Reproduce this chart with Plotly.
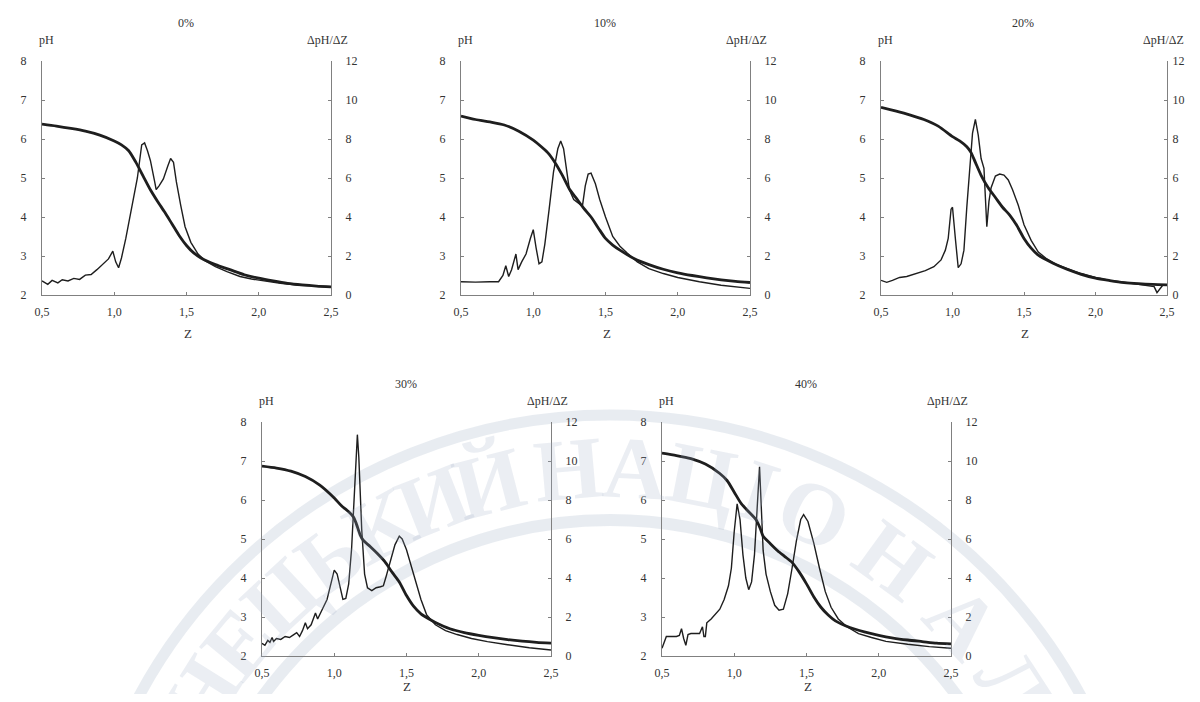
import math
import plotly.graph_objects as go

# ---------------- data ----------------
panel_titles = ["0%", "10%", "20%", "30%", "40%"]
x_tickvals = [0.5, 1.0, 1.5, 2.0, 2.5]
x_ticktext = ["0,5", "1,0", "1,5", "2,0", "2,5"]
ph_tickvals = [2, 3, 4, 5, 6, 7, 8]
d_tickvals = [0, 2, 4, 6, 8, 10, 12]

# pH curves
z_ph_0 = [0.5, 0.6, 0.7, 0.8, 0.9, 1.0, 1.05, 1.1, 1.15, 1.2, 1.25, 1.3, 1.35, 1.4, 1.45, 1.5, 1.55, 1.6, 1.7, 1.8, 1.9, 2.0, 2.1, 2.2, 2.3, 2.4, 2.5]
ph_0 = [6.38, 6.33, 6.27, 6.2, 6.1, 5.95, 5.85, 5.7, 5.4, 5.05, 4.7, 4.4, 4.12, 3.82, 3.52, 3.27, 3.08, 2.95, 2.78, 2.65, 2.52, 2.43, 2.36, 2.3, 2.26, 2.23, 2.21]

z_ph_10 = [0.5, 0.6, 0.7, 0.8, 0.9, 1.0, 1.05, 1.1, 1.15, 1.2, 1.25, 1.3, 1.35, 1.4, 1.45, 1.5, 1.55, 1.6, 1.7, 1.8, 1.9, 2.0, 2.1, 2.2, 2.3, 2.4, 2.5]
ph_10 = [6.59, 6.5, 6.44, 6.36, 6.2, 5.97, 5.82, 5.65, 5.4, 5.08, 4.72, 4.47, 4.22, 4.0, 3.72, 3.45, 3.28, 3.15, 2.93, 2.78, 2.66, 2.57, 2.5, 2.44, 2.39, 2.35, 2.32]

z_ph_20 = [0.5, 0.6, 0.7, 0.8, 0.9, 1.0, 1.05, 1.1, 1.13, 1.16, 1.2, 1.25, 1.3, 1.35, 1.4, 1.45, 1.5, 1.55, 1.6, 1.7, 1.8, 1.9, 2.0, 2.1, 2.2, 2.3, 2.4, 2.5]
ph_20 = [6.81, 6.72, 6.62, 6.5, 6.33, 6.06, 5.95, 5.8, 5.65, 5.4, 5.07, 4.75, 4.5, 4.25, 4.05, 3.78, 3.45, 3.2, 3.02, 2.82, 2.66, 2.53, 2.43, 2.37, 2.32, 2.29, 2.27, 2.26]

z_ph_30 = [0.5, 0.6, 0.7, 0.8, 0.9, 1.0, 1.05, 1.1, 1.13, 1.15, 1.18, 1.2, 1.25, 1.3, 1.35, 1.4, 1.45, 1.5, 1.55, 1.6, 1.65, 1.7, 1.8, 1.9, 2.0, 2.1, 2.2, 2.3, 2.4, 2.5]
ph_30 = [6.87, 6.82, 6.74, 6.6, 6.38, 6.05, 5.85, 5.7, 5.58, 5.42, 5.1, 4.97, 4.8, 4.62, 4.42, 4.15, 3.9, 3.55, 3.27, 3.08, 2.96, 2.86, 2.7, 2.6, 2.53, 2.47, 2.42, 2.38, 2.35, 2.33]

z_ph_40 = [0.5, 0.6, 0.7, 0.8, 0.9, 0.95, 1.0, 1.05, 1.1, 1.15, 1.18, 1.2, 1.25, 1.3, 1.35, 1.4, 1.45, 1.5, 1.55, 1.6, 1.65, 1.7, 1.8, 1.9, 2.0, 2.1, 2.2, 2.3, 2.4, 2.5]
ph_40 = [7.2, 7.14, 7.06, 6.92, 6.68, 6.5, 6.2, 5.9, 5.7, 5.5, 5.27, 5.07, 4.88, 4.7, 4.55, 4.4, 4.15, 3.85, 3.52, 3.25, 3.05, 2.9, 2.73, 2.62, 2.53, 2.46, 2.41, 2.37, 2.33, 2.31]

# derivative curves dpH/dZ
z_d_0 = [0.5, 0.54, 0.57, 0.61, 0.64, 0.68, 0.72, 0.76, 0.8, 0.84, 0.88, 0.92, 0.96, 0.99, 1.01, 1.03, 1.05, 1.08, 1.12, 1.16, 1.19, 1.21, 1.23, 1.25, 1.28, 1.29, 1.31, 1.34, 1.37, 1.39, 1.41, 1.43, 1.46, 1.49, 1.53, 1.58, 1.63, 1.7, 1.78, 1.87, 1.95, 2.05, 2.15, 2.28, 2.4, 2.5]
d_0 = [0.72, 0.55, 0.75, 0.62, 0.78, 0.72, 0.85, 0.8, 1.02, 1.05, 1.3, 1.55, 1.85, 2.25, 1.7, 1.4, 1.9, 2.9, 4.5, 6.0, 7.7, 7.8, 7.4, 6.9, 5.8, 5.4, 5.6, 5.95, 6.6, 7.0, 6.8, 5.8, 4.6, 3.5, 2.7, 2.1, 1.75, 1.45, 1.2, 0.95, 0.82, 0.7, 0.6, 0.5, 0.45, 0.42]

z_d_10 = [0.5, 0.6, 0.7, 0.76, 0.79, 0.81, 0.83, 0.85, 0.88, 0.895, 0.92, 0.95, 0.98, 1.0, 1.02, 1.04, 1.06, 1.08, 1.11, 1.14, 1.17, 1.19, 1.21, 1.23, 1.25, 1.28, 1.31, 1.34, 1.36, 1.38, 1.4, 1.43, 1.46, 1.5, 1.55, 1.6, 1.65, 1.72, 1.8, 1.9, 2.0, 2.15, 2.3, 2.5]
d_10 = [0.68, 0.66, 0.68, 0.68, 1.0, 1.5, 0.95, 1.3, 2.1, 1.3, 1.7, 2.1, 2.9, 3.35, 2.4, 1.6, 1.7, 2.6, 4.4, 6.3, 7.5, 7.9, 7.5, 6.3, 5.4, 4.9, 4.7, 4.55, 5.6, 6.2, 6.25, 5.7, 4.9, 4.0, 3.0, 2.5, 2.15, 1.7, 1.35, 1.1, 0.9, 0.68, 0.5, 0.34]

z_d_20 = [0.5, 0.54, 0.58, 0.63, 0.68, 0.75, 0.81, 0.87, 0.92, 0.95, 0.97, 0.99, 1.0, 1.02, 1.04, 1.06, 1.08, 1.1, 1.12, 1.14, 1.16, 1.18, 1.2, 1.22, 1.23, 1.24, 1.255, 1.27, 1.3, 1.33, 1.36, 1.39, 1.42, 1.46, 1.5, 1.55, 1.6, 1.66, 1.73, 1.8, 1.9, 2.0, 2.1, 2.25, 2.35, 2.41, 2.43, 2.45, 2.47, 2.5]
d_20 = [0.75, 0.65, 0.75, 0.9, 0.95, 1.1, 1.25, 1.45, 1.8, 2.3, 2.9, 4.4, 4.5, 2.9, 1.4, 1.6, 2.3, 4.5, 6.6, 8.3, 9.0, 8.2, 7.0, 6.5, 5.0, 3.5, 4.8, 5.5, 6.1, 6.2, 6.15, 5.9, 5.4, 4.6, 3.6, 2.8, 2.2, 1.85, 1.55, 1.35, 1.1, 0.9, 0.75, 0.6, 0.5, 0.43, 0.12, 0.3, 0.5, 0.5]

z_d_30 = [0.5, 0.52, 0.54, 0.555, 0.57, 0.58, 0.6, 0.63, 0.66, 0.69, 0.72, 0.74, 0.76, 0.78, 0.8, 0.815, 0.84, 0.87, 0.885, 0.91, 0.95, 0.98, 1.0, 1.02, 1.04, 1.06, 1.08, 1.1, 1.12, 1.135, 1.15, 1.16, 1.17, 1.18, 1.19, 1.21, 1.23, 1.26, 1.29, 1.32, 1.34, 1.36, 1.39, 1.42, 1.45, 1.47, 1.5, 1.53, 1.56, 1.6, 1.64, 1.7, 1.77, 1.85, 1.95, 2.06, 2.2, 2.35, 2.5]
d_30 = [0.65, 0.55, 0.8, 0.7, 0.95, 0.75, 0.9, 0.85, 1.0, 0.95, 1.1, 1.2, 1.0, 1.3, 1.7, 1.4, 1.6, 2.2, 1.9, 2.3, 2.9, 3.8, 4.4, 4.2, 3.5, 2.9, 2.95, 3.7, 5.5, 8.0, 10.5, 11.35, 10.2, 8.0, 6.5, 4.2, 3.5, 3.35, 3.5, 3.55, 3.6, 4.1, 4.9, 5.7, 6.15, 6.0, 5.45, 4.7, 3.9, 2.9, 2.1, 1.6, 1.3, 1.1, 0.9, 0.74, 0.58, 0.42, 0.31]

z_d_40 = [0.5, 0.52, 0.53, 0.56, 0.6, 0.62, 0.635, 0.65, 0.665, 0.68, 0.7, 0.73, 0.76, 0.78, 0.79, 0.8, 0.81, 0.84, 0.87, 0.9, 0.93, 0.96, 0.98, 1.0, 1.02, 1.04, 1.06, 1.08, 1.1, 1.12, 1.14, 1.16, 1.175, 1.185, 1.2, 1.22, 1.25, 1.28, 1.31, 1.34, 1.37, 1.4, 1.43, 1.46, 1.48, 1.51, 1.55, 1.59, 1.63, 1.67, 1.72, 1.78, 1.86, 1.95, 2.05, 2.2, 2.35, 2.5]
d_40 = [0.4, 0.85, 1.0, 1.0, 1.0, 1.05, 1.4, 0.9, 0.55, 1.1, 1.15, 1.15, 1.15, 1.5, 1.0, 1.0, 1.7, 1.9, 2.15, 2.4, 2.9, 3.6, 4.5, 6.4, 7.8, 7.0, 5.2, 4.0, 3.4, 3.8, 5.2, 7.8, 9.7, 8.0, 5.4, 4.2, 3.3, 2.6, 2.35, 2.4, 3.2, 4.5, 5.9, 7.0, 7.25, 6.9, 5.8, 4.5, 3.3, 2.5, 1.9, 1.5, 1.15, 0.95, 0.75, 0.6, 0.48, 0.4]

ph_series = [(z_ph_0, ph_0), (z_ph_10, ph_10), (z_ph_20, ph_20), (z_ph_30, ph_30), (z_ph_40, ph_40)]
d_series = [(z_d_0, d_0), (z_d_10, d_10), (z_d_20, d_20), (z_d_30, d_30), (z_d_40, d_40)]

# ---------------- layout geometry (screen pixels of the target) ----------------
OFF = 8  # the page body offsets the figure by 8 px on every side
W, H = 1200 - 2 * OFF, 702 - 2 * OFF  # figure fits the window exactly
# left, right, top, bottom of each plot area (screen pixels)
boxes = [(42, 331, 61, 295), (461, 750, 61, 295), (881, 1167, 61, 295),
         (262, 551, 422, 656), (662, 951, 422, 656)]
right_standoff = [11, 11, 2, 11, 11]


def px(x):
    return (x - OFF) / W


def py(y):
    return 1 - (y - OFF) / H


FONT = "Liberation Serif"
AX_COL = "#808080"
LINE_COL = "#1e1e1e"
TXT_COL = "#333333"

fig = go.Figure()
layout = dict(
    width=W, height=H, margin=dict(l=0, r=0, t=0, b=0, autoexpand=False),
    paper_bgcolor="white", plot_bgcolor="rgba(0,0,0,0)",
    showlegend=False, font=dict(family=FONT, size=12, color=TXT_COL),
)
annotations = []
shapes = []

# ---------------- faint seal watermark (background) ----------------
RING_COL = "rgba(160,174,198,0.24)"
WM_COL = "rgba(160,174,198,0.21)"
cxw, cyw = 610, 950
for r, w in [(535, 11), (430, 12)]:
    shapes.append(dict(type="circle", xref="paper", yref="paper", layer="below",
                       x0=px(cxw - r), x1=px(cxw + r), y0=py(cyw + r), y1=py(cyw - r),
                       line=dict(color=RING_COL, width=w), fillcolor="rgba(0,0,0,0)"))
wm_letters = ["Д", "О", "Н", "Е", "Ц", "Ь", "К", "И", "Й", "Н", "А", "Ц", "І", "О", "Н", "А", "Л", "Ь", "Н", "И", "Й"]
wm_angles = [-73, -65.5, -58, -50.5, -43, -35.5, -28.5, -21.5, -14.5, -5, 3, 11, 18, 25, 36, 47, 57, 66, 74, 82, 90]
rt = 482
for ch, a in zip(wm_letters, wm_angles):
    t = math.radians(a)
    xx = cxw + rt * math.sin(t)
    yy = cyw - rt * math.cos(t)
    annotations.append(dict(text="<b>" + ch + "</b>", x=px(xx), y=py(yy), xref="paper", yref="paper",
                            xanchor="center", yanchor="middle",
                            showarrow=False, textangle=a,
                            font=dict(family=FONT, size=88, color=WM_COL)))

for k in range(5):
    i = k + 1
    xa = "x" if i == 1 else f"x{i}"
    yl_n = 2 * i - 1
    yr_n = 2 * i
    yl = "y" if yl_n == 1 else f"y{yl_n}"
    yr = f"y{yr_n}"
    L, R, T, B = boxes[k]
    zp, pv = ph_series[k]
    zd, dv = d_series[k]
    fig.add_trace(go.Scatter(x=zd, y=dv, mode="lines", xaxis=xa, yaxis=yr,
                             line=dict(color=LINE_COL, width=1.4), hoverinfo="skip"))
    fig.add_trace(go.Scatter(x=zp, y=pv, mode="lines", xaxis=xa, yaxis=yl,
                             line=dict(color=LINE_COL, width=2.8, shape="spline", smoothing=0.7),
                             hoverinfo="skip"))
    xname = "xaxis" if i == 1 else f"xaxis{i}"
    ylname = "yaxis" if yl_n == 1 else f"yaxis{yl_n}"
    yrname = f"yaxis{yr_n}"
    common = dict(showline=True, linecolor=AX_COL, linewidth=1, ticks="inside", ticklen=3,
                  tickcolor=AX_COL, showgrid=False, zeroline=False, automargin=False,
                  tickfont=dict(family=FONT, size=12, color=TXT_COL))
    layout[xname] = dict(domain=[px(L), px(R)], range=[0.5, 2.5], anchor=yl,
                         tickvals=x_tickvals, ticktext=x_ticktext, ticklabelstandoff=6, **common)
    layout[ylname] = dict(domain=[py(B), py(T)], range=[2, 8], anchor=xa, side="left",
                          tickvals=ph_tickvals, ticklabelstandoff=12, **common)
    layout[yrname] = dict(overlaying=yl, range=[0, 12], anchor=xa, side="right",
                          tickvals=d_tickvals, ticklabelstandoff=right_standoff[k], **common)
    cx = (L + R) / 2
    annotations.append(dict(text=panel_titles[k], x=px(cx - 1), y=py(T - 38), xref="paper", yref="paper",
                            xanchor="center", yanchor="middle",
                            showarrow=False, font=dict(family=FONT, size=12, color=TXT_COL)))
    annotations.append(dict(text="pH", x=px(L + 4), y=py(T - 21), xref="paper", yref="paper",
                            xanchor="center", yanchor="middle",
                            showarrow=False, font=dict(family=FONT, size=12, color=TXT_COL)))
    annotations.append(dict(text="ΔpH/ΔZ", x=px(R - 4), y=py(T - 21), xref="paper", yref="paper",
                            xanchor="center", yanchor="middle",
                            showarrow=False, font=dict(family=FONT, size=12, color=TXT_COL)))
    zy = B + 38 if B + 38 < 680 else 686
    annotations.append(dict(text="Z", x=px(cx + 1), y=py(zy), xref="paper", yref="paper",
                            xanchor="center", yanchor="middle",
                            showarrow=False, font=dict(family=FONT, size=13, color=TXT_COL)))

layout["annotations"] = annotations
layout["shapes"] = shapes
fig.update_layout(**layout)
fig.write_html("out.html")
